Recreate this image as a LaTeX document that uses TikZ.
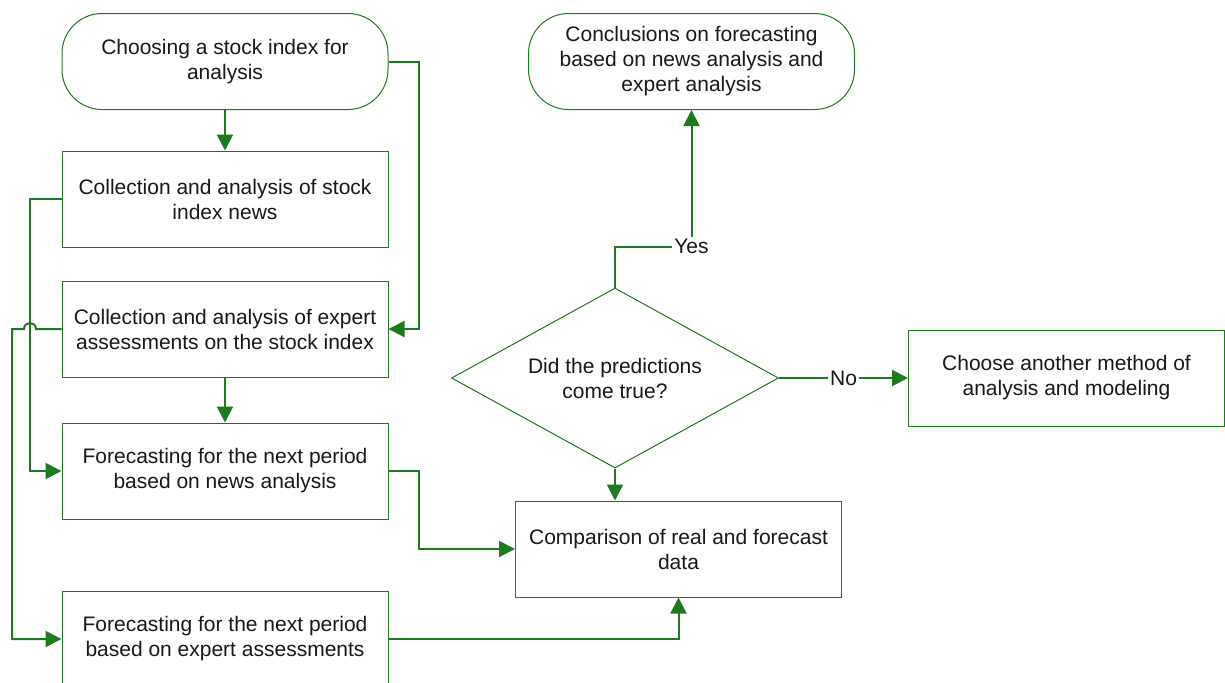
\documentclass[tikz,border=0pt]{standalone}
\usepackage{fontspec}
\setmainfont{Liberation Sans}
\usepackage{tikz}
\usetikzlibrary{shapes.geometric,arrows.meta}
\definecolor{flowgreen}{RGB}{30,122,30}
\definecolor{inkgray}{RGB}{25,25,25}
\tikzstyle{block} = [rectangle, draw=flowgreen, line width=0.5pt, fill=white,
                 minimum width=163pt, minimum height=48pt, align=center,
                 text=inkgray, font=\fontsize{10.5}{12.5}\selectfont]
\tikzstyle{term} = [block, rounded corners=20pt]
\tikzstyle{decision} = [block, diamond, aspect=1.8, minimum width=163.5pt, minimum height=90pt, inner sep=0pt]
\tikzstyle{branch} = [draw=flowgreen, line width=1pt, -{Triangle[length=8pt,width=8pt]}]
\tikzstyle{answer} = [fill=white, inner sep=1pt, text=inkgray, font=\fontsize{10.5}{12.5}\selectfont]

\begin{document}
\begin{tikzpicture}[x=0.5pt,y=-0.5pt]

\useasboundingbox (0,0) rectangle (1225,682);

\node [term] at (225,61.5) (start) {Choosing a stock index for\\analysis};
\node [block] at (225,199) (news) {Collection and analysis of stock\\index news};
\node [block] at (225,329) (expert) {Collection and analysis of expert\\assessments on the stock index};
\node [block] at (225,471) (fcnews) {Forecasting for the next period\\based on news analysis};
\node [block] at (225,639) (fcexpert) {Forecasting for the next period\\based on expert assessments};

\node [block] at (678.5,549) (compare) {Comparison of real and forecast\\data};
\node [decision] at (615,378) (check) {Did the predictions\\come true?};
\node [term] at (691.5,61.5) (concl) {Conclusions on forecasting\\based on news analysis and\\expert analysis};
\node [block, minimum width=158pt] at (1066.5,378) (other) {Choose another method of\\analysis and modeling};

    	%left column
\path [branch] (start.south) -- (news.north);
\path [branch] (start.east) -- ++(30,0) |- (expert.east);
\path [branch] (news.west) -- ++(-32,0) |- (fcnews.west);
\path [branch] (expert.west) -- (36,329) .. controls (36,321) and (24,321) .. (24,329)
	-- (12,329) |- (fcexpert.west);
\path [branch] (expert.south) -- (fcnews.north);
\path [branch] (fcnews.east) -- ++(30,0) |- (compare.west);
\path [branch] (fcexpert.east) -| (compare.south);

    	%decision
\path [branch] (check.south) -- (check.south |- compare.north);
\path [branch] (check.north) -- ++(0,-41) -| node [answer, pos=0.5] {Yes} (concl.south);
\path [branch] (check.east) -- node [answer] {No} (other.west);

\end{tikzpicture}
\end{document}
